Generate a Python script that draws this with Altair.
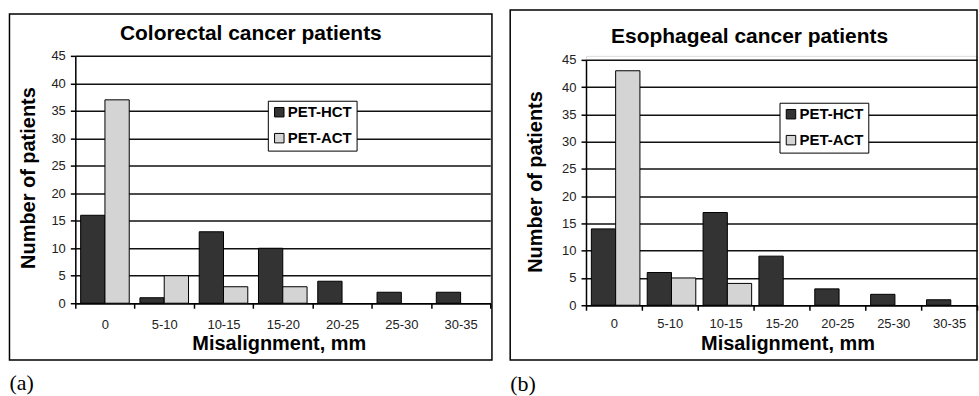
import altair as alt
import pandas as pd

categories = ["0", "5-10", "10-15", "15-20", "20-25", "25-30", "30-35"]
series = ["PET-HCT", "PET-ACT"]

colorectal_hct = [16, 1, 13, 10, 4, 2, 2]
colorectal_act = [37, 5, 3, 3, 0, 0, 0]
esophageal_hct = [14, 6, 17, 9, 3, 2, 1]
esophageal_act = [43, 5, 4, 0, 0, 0, 0]

title_a = "Colorectal cancer patients"
title_b = "Esophageal cancer patients"
y_title = "Number of patients"
x_title = "Misalignment, mm"
y_ticks = [0, 5, 10, 15, 20, 25, 30, 35, 40, 45]

SANS = "Liberation Sans"
SERIF = "Liberation Serif"
HCT_COLOR = "#333333"
ACT_COLOR = "#d4d4d4"


def table(hct, act):
    rows = []
    for c, h, a in zip(categories, hct, act):
        rows.append({"cat": c, "series": series[0], "n": h})
        rows.append({"cat": c, "series": series[1], "n": a})
    return pd.DataFrame(rows)


def panel(df, title, letter, w, h, yrange, frame, title_xy, ytitle_xy,
          xtitle_xy, legend_xy, label_pad, off_pad, letter_xy):
    bars = alt.Chart(df).transform_filter("datum.n > 0").mark_bar(
        stroke="black", strokeWidth=1
    ).encode(
        x=alt.X("cat:N", sort=categories,
                scale=alt.Scale(domain=categories, paddingInner=0,
                                paddingOuter=0),
                axis=alt.Axis(labelAngle=0, tickBand="extent",
                              domainColor="black", domainWidth=1.5,
                              tickColor="black", tickSize=5, tickWidth=1.5,
                              labelFont=SANS, labelFontSize=13,
                              labelColor="#222222", labelPadding=label_pad,
                              title=x_title, titleFont=SANS,
                              titleFontSize=20, titleFontWeight="bold",
                              titleColor="black", titleX=xtitle_xy[0],
                              titleY=xtitle_xy[1], titleBaseline="middle",
                              titleAlign="center")),
        xOffset=alt.XOffset("series:N", sort=series,
                            scale=alt.Scale(domain=series, paddingInner=0,
                                            paddingOuter=off_pad)),
        y=alt.Y("n:Q",
                scale=alt.Scale(domain=[0, 45], range=yrange, nice=False),
                axis=alt.Axis(values=y_ticks, grid=True, gridColor="#111111",
                              gridWidth=1.5, domainColor="black",
                              domainWidth=1.5, tickColor="black",
                              tickSize=5, tickWidth=1.5, labelFont=SANS,
                              labelFontSize=13, labelColor="#222222",
                              labelPadding=5, title=y_title,
                              titleFont=SANS, titleFontSize=20,
                              titleFontWeight="bold", titleColor="black",
                              titleAngle=270, titleX=ytitle_xy[0],
                              titleY=ytitle_xy[1], titleBaseline="middle",
                              titleAlign="center")),
        color=alt.Color("series:N", sort=series,
                        scale=alt.Scale(domain=series,
                                        range=[HCT_COLOR, ACT_COLOR]),
                        legend=alt.Legend(title=None, orient="none",
                                          legendX=legend_xy[0],
                                          legendY=legend_xy[1],
                                          strokeColor="black",
                                          fillColor="white", padding=4,
                                          symbolType="square",
                                          symbolSize=90,
                                          symbolStrokeColor="black",
                                          symbolStrokeWidth=1,
                                          symbolOpacity=1,
                                          labelFont=SANS, labelFontSize=15,
                                          labelFontWeight="bold",
                                          labelColor="black",
                                          labelOffset=1, rowPadding=10)),
    )
    one = pd.DataFrame({"t": [title]})
    frame_mark = alt.Chart(one).mark_rect(
        filled=False, stroke="black", strokeWidth=1.5
    ).encode(x=alt.value(frame[0]), x2=alt.value(frame[1]),
             y=alt.value(frame[2]), y2=alt.value(frame[3]))
    title_mark = alt.Chart(one).mark_text(
        font=SANS, fontSize=21, fontWeight="bold", color="black",
        align="center", baseline="middle"
    ).encode(text="t:N", x=alt.value(title_xy[0]), y=alt.value(title_xy[1]))
    letter_mark = alt.Chart(pd.DataFrame({"t": [letter]})).mark_text(
        font=SERIF, fontSize=22, color="black", align="left",
        baseline="middle"
    ).encode(text="t:N", x=alt.value(letter_xy[0]), y=alt.value(letter_xy[1]))
    return alt.layer(frame_mark, bars, title_mark, letter_mark).properties(
        width=w, height=h)


left = panel(table(colorectal_hct, colorectal_act), title_a, "(a)",
             416, 248, [248, 0], (-66, 417.7, -42, 305), (176, -22),
             (-47, 122), (204, 40), (193, 45), 10, 0.22, (-66, 328))
right = panel(table(esophageal_hct, esophageal_act), title_b, "(b)",
              392, 250, [250, 4], (-76, 392, -46, 305), (164, -19),
              (-51, 126), (202, 38), (194, 47), 7, 0.25, (-76, 329))

chart = alt.hconcat(left, right, spacing=96, bounds="flush").resolve_legend(
    color="independent"
).properties(
    padding={"left": 7.5, "top": 7.5, "right": 0, "bottom": 0}
).configure_view(stroke=None).configure(background="white")

chart.save("out.html", embed_options={"renderer": "svg", "actions": False})
